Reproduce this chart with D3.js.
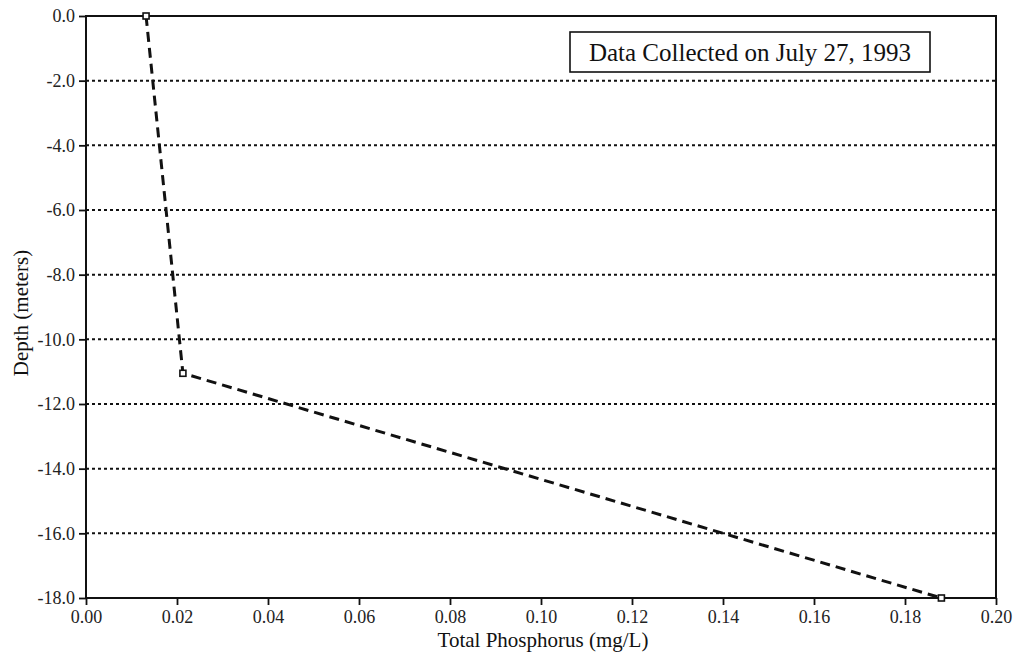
<!DOCTYPE html>
<html><head><meta charset="utf-8">
<script src="https://cdn.jsdelivr.net/npm/d3@7"></script>
<style>body{margin:0;background:#fff}svg{display:block}</style>
</head><body>
<svg id="c" width="1015" height="656"></svg>
<script>
const phosphorus = [0.0132, 0.0213, 0.188];
const depth = [0.0, -11.05, -18.0];
const xTicks = [0, 0.02, 0.04, 0.06, 0.08, 0.10, 0.12, 0.14, 0.16, 0.18, 0.20];
const yTicks = [0, -2, -4, -6, -8, -10, -12, -14, -16, -18];
const title = "Data Collected on July 27, 1993";

const svg = d3.select("#c");
const L = 86, R = 996, T = 16, B = 598;
const x = d3.scaleLinear().domain([0, 0.20]).range([L, R]);
const y = d3.scaleLinear().domain([0, -18]).range([T, B]);
const font = "'Liberation Serif', 'Times New Roman', serif";

// gridlines
svg.append("g").selectAll("line").data(yTicks.filter(d => d !== 0 && d !== -18)).join("line")
  .attr("x1", L).attr("x2", R).attr("y1", d => y(d)).attr("y2", d => y(d))
  .attr("stroke", "#111").attr("stroke-width", 2).attr("stroke-dasharray", "3,3");

// frame
svg.append("rect").attr("x", L).attr("y", T).attr("width", R - L).attr("height", B - T)
  .attr("fill", "none").attr("stroke", "#111").attr("stroke-width", 2);

// axes
const fmtY = d => d3.format(".1f")(d).replace("\u2212", "-");
const xa = svg.append("g").attr("transform", `translate(0,${B})`)
  .call(d3.axisBottom(x).tickValues(xTicks).tickFormat(d3.format(".2f")).tickSize(7).tickPadding(5));
const ya = svg.append("g").attr("transform", `translate(${L},0)`)
  .call(d3.axisLeft(y).tickValues(yTicks).tickFormat(fmtY).tickSize(7).tickPadding(4));
[xa, ya].forEach(a => {
  a.select(".domain").remove();
  a.selectAll("line").attr("stroke", "#111").attr("stroke-width", 1.8);
  a.selectAll("text").attr("font-family", font).attr("font-size", 18).attr("fill", "#222");
});
ya.selectAll(".tick line").attr("x2", 0).attr("x1", -7);

// data line
const line = d3.line().x((d, i) => x(phosphorus[i])).y((d, i) => y(depth[i]));
svg.append("path").datum(depth).attr("d", line)
  .attr("fill", "none").attr("stroke", "#111").attr("stroke-width", 3).attr("stroke-dasharray", "10,6");

svg.append("g").selectAll("rect").data(depth).join("rect")
  .attr("x", (d, i) => x(phosphorus[i]) - 3).attr("y", d => y(d) - 3)
  .attr("width", 6).attr("height", 6).attr("fill", "#fff").attr("stroke", "#111").attr("stroke-width", 1.6);

// title box
svg.append("rect").attr("x", 570).attr("y", 32).attr("width", 360).attr("height", 40)
  .attr("fill", "#fff").attr("stroke", "#111").attr("stroke-width", 1.6);
svg.append("text").attr("x", 750).attr("y", 61).attr("text-anchor", "middle")
  .attr("font-family", font).attr("font-size", 25).attr("fill", "#111").text(title);

// axis titles
svg.append("text").attr("x", 543).attr("y", 647).attr("text-anchor", "middle")
  .attr("font-family", font).attr("font-size", 21).attr("fill", "#111").text("Total Phosphorus (mg/L)");
svg.append("text").attr("transform", `translate(28,313) rotate(-90)`).attr("text-anchor", "middle")
  .attr("font-family", font).attr("font-size", 21).attr("fill", "#111").text("Depth (meters)");
</script>
</body></html>
